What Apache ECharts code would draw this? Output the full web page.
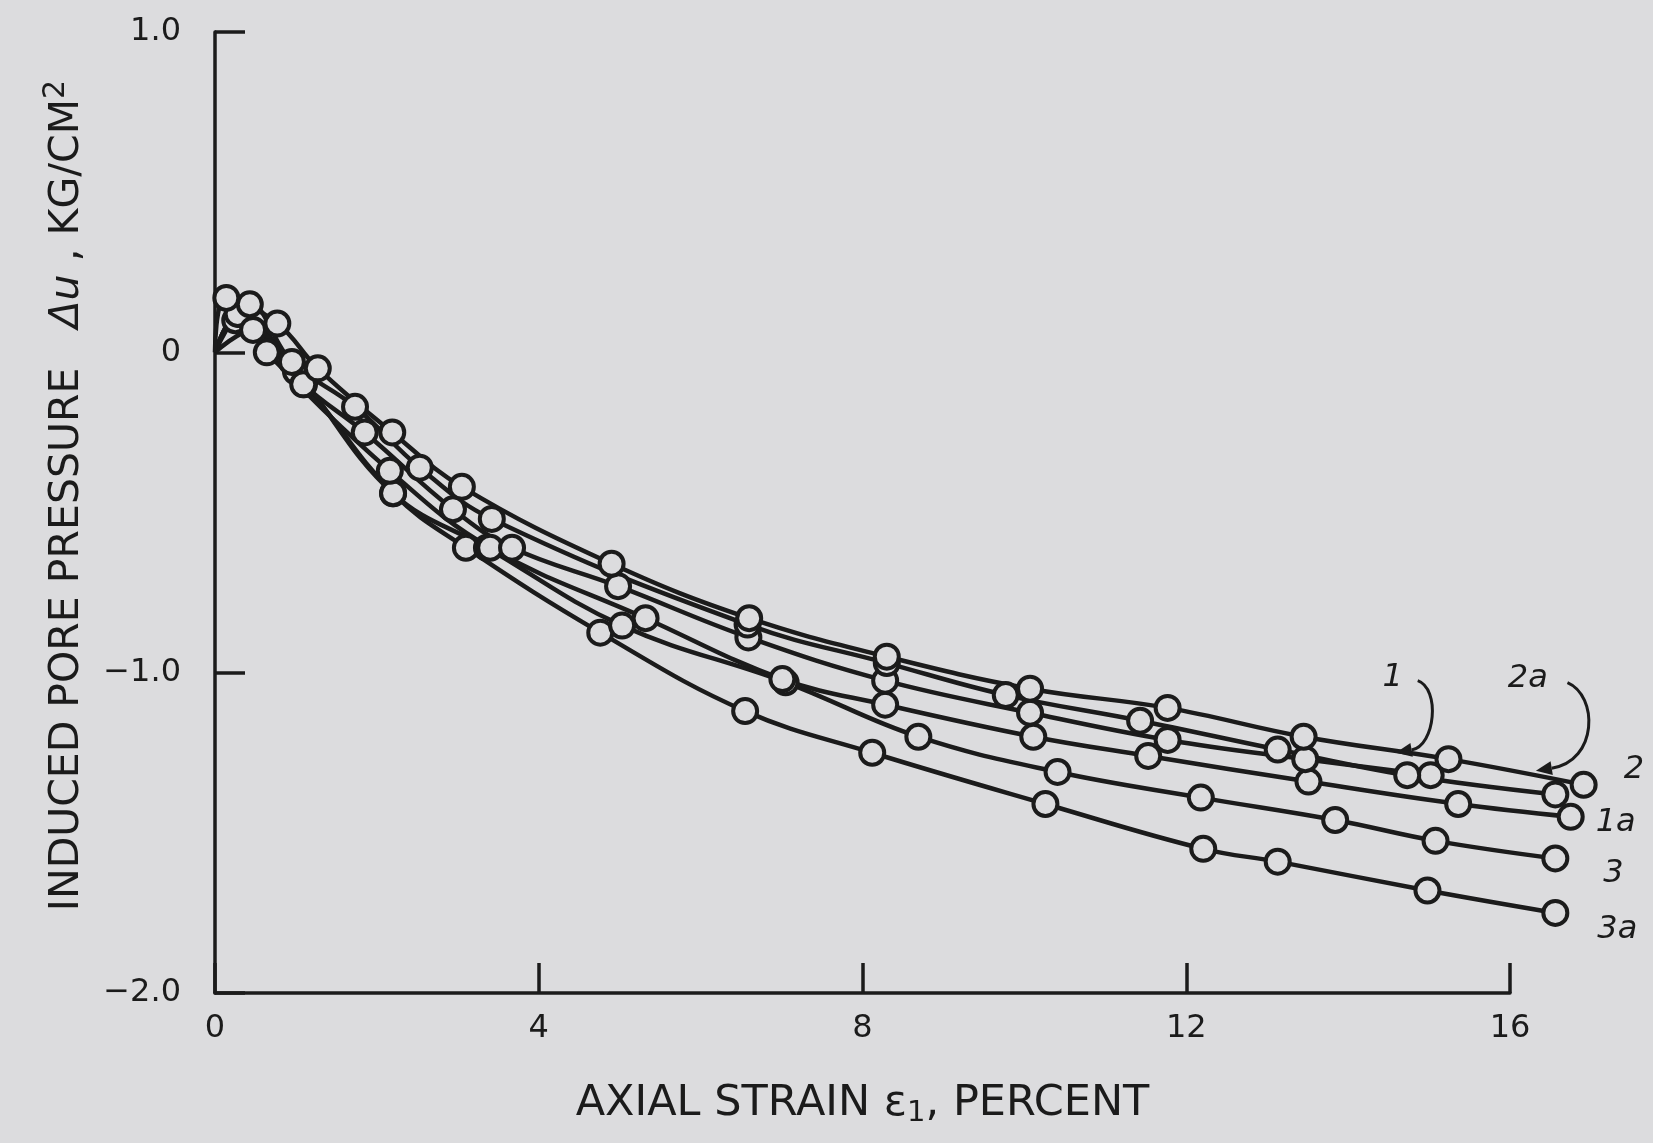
<!DOCTYPE html>
<html>
<head>
<meta charset="utf-8">
<title>Induced pore pressure vs axial strain</title>
<script src="https://cdn.jsdelivr.net/npm/echarts@6/dist/echarts.min.js"></script>
<style>
  html, body { margin: 0; padding: 0; background: #dcdcde; }
  #chart { width: 1653px; height: 1143px; }
</style>
</head>
<body>
<div id="chart"></div>
<script>
// axis tick values (the drawn axis stops at 16, the tests run past it)
const xTicks = [0, 4, 8, 12, 16];
const yTicks = [-2, -1, 0, 1];
const xDataMax = 17.5;

// test curves: [axial strain %, du kg/cm2]
const curve2 = [[0, 0], [0.14, 0.17], [0.77, 0.09], [1.27, -0.05], [2.19, -0.25], [3.05, -0.42], [4.9, -0.66], [6.6, -0.83], [8.3, -0.95], [10.07, -1.05], [11.77, -1.11], [13.45, -1.2], [15.24, -1.27], [16.91, -1.35]];
const curve2a = [[0, 0], [0.43, 0.15], [0.95, -0.03], [1.73, -0.17], [2.53, -0.36], [3.42, -0.52], [6.58, -0.85], [8.3, -0.97], [9.77, -1.07], [11.43, -1.15], [13.13, -1.24], [14.73, -1.32], [16.56, -1.38]];
const curve1 = [[0, 0], [0.47, 0.07], [1.09, -0.1], [1.85, -0.25], [2.94, -0.49], [3.67, -0.61], [4.98, -0.73], [6.59, -0.89], [8.28, -1.025], [10.07, -1.125], [11.77, -1.21], [13.47, -1.27], [15.02, -1.32]];
const curve1a = [[0, 0], [0.28, 0.12], [0.64, 0], [2.16, -0.37], [3.4, -0.61], [5.32, -0.83], [7.01, -1.02], [8.28, -1.1], [10.11, -1.2], [11.53, -1.26], [13.51, -1.34], [15.36, -1.41], [16.75, -1.45]];
const curve3 = [[0, 0], [0.3, 0.12], [1.0, -0.06], [2.2, -0.44], [3.36, -0.61], [5.03, -0.853], [7.05, -1.03], [8.69, -1.2], [10.41, -1.31], [12.18, -1.39], [13.84, -1.46], [15.08, -1.525], [16.56, -1.58]];
const curve3a = [[0, 0], [0.25, 0.1], [1.1, -0.1], [2.2, -0.44], [3.1, -0.61], [4.76, -0.875], [6.55, -1.12], [8.12, -1.25], [10.26, -1.41], [12.21, -1.55], [13.13, -1.59], [14.98, -1.68], [16.56, -1.75]];

// callouts with curved leaders: label spot, then leader start, two control pts, tip
const calloutText = ['1', '2a'];
const calloutLabel = [[14.55, -1.016], [16.22, -1.019]];
const calloutPath = [
  [[14.86, -1.025], [15.14, -1.05], [15.08, -1.228], [14.59, -1.25]],
  [[16.71, -1.031], [17.09, -1.072], [17.09, -1.275], [16.32, -1.306]]
];

const ink = '#1b1b1b';
const paper = '#dcdcde';
const font = 'DejaVu Sans';

// plot box in px
const boxLeft = 215, boxRight = 143, boxTop = 32, boxBottom = 150;
const boxWidth = 1653 - boxLeft - boxRight;
const xShown = xTicks[xTicks.length - 1] - xTicks[0];
// second (hidden) grid with the same scale, just wider, so the data can run past 16
const dataRight = 1653 - boxLeft - boxWidth * (xDataMax - xTicks[0]) / xShown;

function lineSeries(name, pts, endOffset) {
  let s = {
    name: name,
    type: 'line',
    xAxisIndex: 1,
    yAxisIndex: 1,
    data: pts.map(p => p[0] === 0 ? { value: p, symbol: 'none' } : p),
    smooth: 0.4,
    symbol: 'circle',
    symbolSize: 24,
    lineStyle: { color: ink, width: 4.5 },
    itemStyle: { color: paper, borderColor: ink, borderWidth: 4 },
    emphasis: { disabled: true },
    animation: false
  };
  if (endOffset) {
    s.endLabel = {
      show: true,
      formatter: name,
      distance: 0,
      offset: endOffset,
      align: 'left',
      fontFamily: font,
      fontStyle: 'italic',
      fontSize: 32,
      color: ink
    };
  }
  return s;
}

function renderCallout(params, api) {
  let i = params.dataIndex;
  let p = calloutPath[i].map(c => api.coord(c));
  let lab = api.coord(calloutLabel[i]);
  let dx = p[3][0] - p[2][0], dy = p[3][1] - p[2][1];
  let len = Math.hypot(dx, dy);
  let ux = dx / len, uy = dy / len;
  let L = 16, W = 7;
  let bx = p[3][0] - ux * L, by = p[3][1] - uy * L;
  return {
    type: 'group',
    children: [
      {
        type: 'bezierCurve',
        shape: { x1: p[0][0], y1: p[0][1], cpx1: p[1][0], cpy1: p[1][1], cpx2: p[2][0], cpy2: p[2][1], x2: bx, y2: by },
        style: { stroke: ink, lineWidth: 3, fill: null }
      },
      {
        type: 'polygon',
        shape: { points: [[p[3][0], p[3][1]], [bx - uy * W, by + ux * W], [bx + uy * W, by - ux * W]] },
        style: { fill: ink }
      },
      {
        type: 'text',
        x: lab[0], y: lab[1],
        style: { text: calloutText[i], fontFamily: font, fontStyle: 'italic', fontSize: 32, fill: ink, align: 'center', verticalAlign: 'middle' }
      }
    ]
  };
}

let mychart = echarts.init(document.getElementById('chart'));
let option = {
  backgroundColor: paper,
  animation: false,
  grid: [
    { left: boxLeft, right: boxRight, top: boxTop, bottom: boxBottom },
    { left: boxLeft, right: dataRight, top: boxTop, bottom: boxBottom }
  ],
  xAxis: [
    {
      type: 'value',
      gridIndex: 0,
      min: xTicks[0],
      max: xTicks[xTicks.length - 1],
      interval: xTicks[1] - xTicks[0],
      name: 'AXIAL STRAIN {e|ε}{sub|1}, PERCENT',
      nameLocation: 'middle',
      nameGap: 86,
      nameTextStyle: {
        fontFamily: font, fontSize: 43, color: ink,
        rich: {
          e: { fontFamily: font, fontSize: 43, color: ink },
          sub: { fontFamily: font, fontSize: 29, color: ink, padding: [20, 0, 0, 0] }
        }
      },
      axisLine: { onZero: false, lineStyle: { color: ink, width: 3.5 } },
      axisTick: { inside: true, length: 30, lineStyle: { color: ink, width: 3.5 } },
      axisLabel: { margin: 20, fontFamily: font, fontSize: 32, color: ink },
      splitLine: { show: false }
    },
    { type: 'value', gridIndex: 1, min: xTicks[0], max: xDataMax, show: false }
  ],
  yAxis: [
    {
      type: 'value',
      gridIndex: 0,
      min: yTicks[0],
      max: yTicks[yTicks.length - 1],
      interval: yTicks[1] - yTicks[0],
      name: 'INDUCED PORE PRESSURE   {i|Δu} , KG/CM{sup|2}',
      nameLocation: 'middle',
      nameGap: 122,
      nameTextStyle: {
        fontFamily: font, fontSize: 41, color: ink,
        padding: [0, 0, 0, 34],
        rich: {
          i: { fontFamily: font, fontSize: 41, fontStyle: 'italic', color: ink },
          sup: { fontFamily: font, fontSize: 30, color: ink, padding: [0, 0, 22, 0] }
        }
      },
      axisLine: { onZero: false, lineStyle: { color: ink, width: 3.5 } },
      axisTick: { inside: true, length: 30, lineStyle: { color: ink, width: 3.5 } },
      axisLabel: {
        margin: 34, fontFamily: font, fontSize: 32, color: ink,
        formatter: v => v === 0 ? '0' : v.toFixed(1).replace('-', '\u2212')
      },
      splitLine: { show: false }
    },
    { type: 'value', gridIndex: 1, min: yTicks[0], max: yTicks[yTicks.length - 1], show: false }
  ],
  series: [
    lineSeries('3a', curve3a, [42, 17]),
    lineSeries('3', curve3, [48, 15]),
    lineSeries('1a', curve1a, [25, 6]),
    lineSeries('1', curve1, null),
    lineSeries('2a', curve2a, null),
    lineSeries('2', curve2, [40, -15]),
    {
      type: 'custom',
      xAxisIndex: 1,
      yAxisIndex: 1,
      renderItem: renderCallout,
      data: calloutLabel,
      silent: true,
      animation: false
    }
  ]
};
mychart.setOption(option);
</script>
</body>
</html>
